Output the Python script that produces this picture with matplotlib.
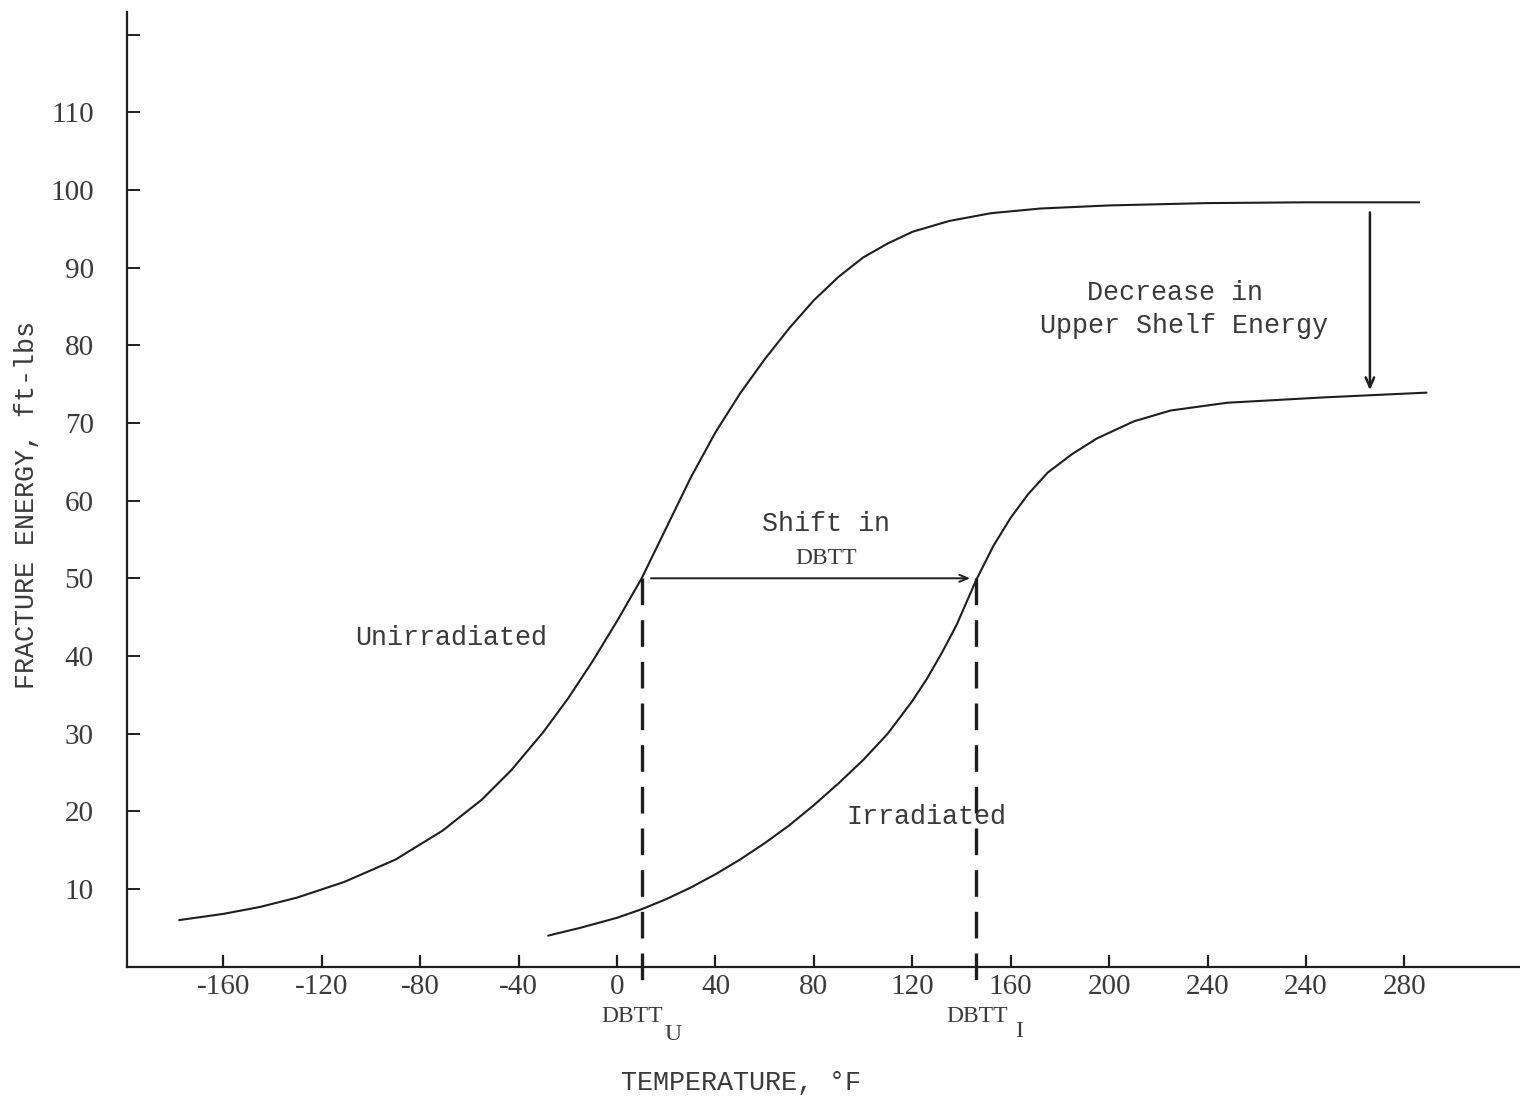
import matplotlib
matplotlib.use("Agg")
import matplotlib.pyplot as plt

# ---------------- data ----------------
# tick positions (uniform spacing) and their printed labels (original has "240" twice)
x_tick_pos = [-160, -120, -80, -40, 0, 40, 80, 120, 160, 200, 240, 280, 320]
x_tick_labels = ["-160", "-120", "-80", "-40", "0", "40", "80", "120", "160",
                 "200", "240", "240", "280"]
y_tick_pos = [10, 20, 30, 40, 50, 60, 70, 80, 90, 100, 110, 120]
y_tick_labels = ["10", "20", "30", "40", "50", "60", "70", "80", "90", "100", "110", ""]

unirr_temp = [-178, -160, -145, -130, -111, -90, -71, -55, -43, -30, -20, -10,
              0, 10, 20, 30, 40, 50, 60, 70, 80, 90, 100, 110, 120, 135, 152,
              172, 200, 240, 280, 326]
unirr_energy = [6.0, 6.8, 7.7, 8.9, 10.9, 13.8, 17.5, 21.5, 25.3, 30.2, 34.5, 39.3,
                44.5, 50.0, 56.5, 63.0, 68.8, 73.8, 78.2, 82.2, 85.8, 88.8, 91.3,
                93.1, 94.6, 96.0, 97.0, 97.6, 98.0, 98.3, 98.4, 98.4]

irr_temp = [-28, -15, 0, 10, 20, 30, 40, 50, 60, 70, 80, 90, 100, 110, 120, 126,
            132, 138, 142, 146, 153, 160, 167, 175, 185, 195, 210, 225, 248, 288, 329]
irr_energy = [4.0, 5.0, 6.3, 7.4, 8.7, 10.2, 11.9, 13.8, 15.9, 18.2, 20.8, 23.6,
              26.6, 30.0, 34.2, 37.1, 40.4, 44.0, 46.9, 49.8, 54.2, 57.8, 60.8,
              63.6, 66.0, 68.0, 70.2, 71.6, 72.6, 73.3, 73.9]

dbtt_u = 10
dbtt_i = 146
dbtt_energy = 50
shift_start = 13.8
shift_end = 143.5
shelf_arrow_temp = 306
shelf_top = 97.1
shelf_bottom = 74.2

# ---------------- figure ----------------
W, H = 1520, 1098
fig = plt.figure(figsize=(W / 100, H / 100), dpi=100)
ax = fig.add_axes([127 / W, 1 - 966.7 / H, (W - 127) / W, (966.7 - 12) / H])
ax.set_xlim(-199.2, 367)
ax.set_ylim(0, 122.9)

ink = "#1e1e1e"
txt = "#3a3a3a"
serif = "Liberation Serif"
mono = "Liberation Mono"
mono_size = 19.3

for s in ["top", "right"]:
    ax.spines[s].set_visible(False)
for s in ["left", "bottom"]:
    ax.spines[s].set_color(ink)
    ax.spines[s].set_linewidth(1.6)

ax.set_xticks(x_tick_pos)
ax.set_xticklabels(x_tick_labels, fontfamily=serif, fontsize=21, color=txt)
ax.set_yticks(y_tick_pos)
ax.set_yticklabels(y_tick_labels, fontfamily=serif, fontsize=21, color=txt)
ax.tick_params(axis="x", direction="in", length=9, width=1.6, color=ink, pad=5)
ax.tick_params(axis="y", direction="in", length=9, width=1.4, color=ink, pad=24)

# curves
ax.plot(unirr_temp, unirr_energy, color=ink, lw=1.5, solid_capstyle="round",
        solid_joinstyle="round")
ax.plot(irr_temp, irr_energy, color=ink, lw=1.5, solid_capstyle="round",
        solid_joinstyle="round")

# dashed DBTT markers
for t in (dbtt_u, dbtt_i):
    ax.plot([t, t], [dbtt_energy, -3.2], color=ink, lw=2.4,
            dashes=(8, 4.5), clip_on=False)

# shift arrow
ax.annotate("", xy=(shift_end, dbtt_energy), xytext=(shift_start, dbtt_energy),
            arrowprops=dict(arrowstyle="->,head_length=0.6,head_width=0.25",
                            color=ink, lw=1.4, shrinkA=0, shrinkB=0))
# decrease arrow
ax.annotate("", xy=(shelf_arrow_temp, shelf_bottom), xytext=(shelf_arrow_temp, shelf_top),
            arrowprops=dict(arrowstyle="->,head_length=0.7,head_width=0.3",
                            color=ink, lw=1.8, shrinkA=0, shrinkB=0))

# annotations
ax.text(85, 57.0, "Shift in", fontfamily=mono, fontsize=mono_size, color=txt,
        ha="center", va="center")
ax.text(85, 52.6, "DBTT", fontfamily=serif, fontsize=17, color=txt,
        ha="center", va="center")
ax.text(226.6, 86.7, "Decrease in", fontfamily=mono, fontsize=mono_size, color=txt,
        ha="center", va="center")
ax.text(230.3, 82.5, "Upper Shelf Energy", fontfamily=mono, fontsize=mono_size,
        color=txt, ha="center", va="center")
ax.text(-106.5, 42.3, "Unirradiated", fontfamily=mono, fontsize=mono_size, color=txt,
        ha="left", va="center")
ax.text(93.1, 19.3, "Irradiated", fontfamily=mono, fontsize=mono_size, color=txt,
        ha="left", va="center")

# DBTT labels below axis
ax.text(6.0, -6.4, "DBTT", fontfamily=serif, fontsize=17, color=txt,
        ha="center", va="center", clip_on=False)
ax.text(22.8, -8.7, "U", fontfamily=serif, fontsize=17, color=txt,
        ha="center", va="center", clip_on=False)
ax.text(146.3, -6.4, "DBTT", fontfamily=serif, fontsize=17, color=txt,
        ha="center", va="center", clip_on=False)
ax.text(163.5, -8.3, "I", fontfamily=serif, fontsize=17, color=txt,
        ha="center", va="center", clip_on=False)

ax.set_xlabel("TEMPERATURE, \u00b0F", fontfamily=mono, fontsize=mono_size, color=txt,
              va="center")
ax.xaxis.set_label_coords(0.4408, -0.1213)
ax.set_ylabel("FRACTURE ENERGY, ft-lbs", fontfamily=mono, fontsize=mono_size,
              color=txt, va="center")
ax.yaxis.set_label_coords(-0.0718, 0.4836)

fig.savefig("out.png", dpi=100, facecolor="white")
